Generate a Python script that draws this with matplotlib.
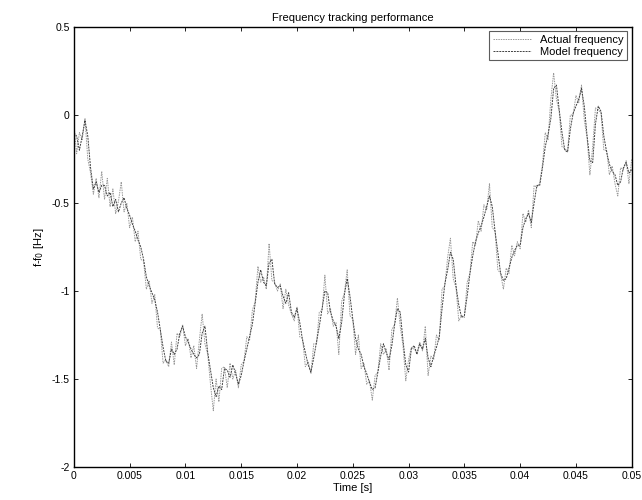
import matplotlib
matplotlib.use("Agg")
import matplotlib.pyplot as plt
import numpy as np

# frequency deviation f - f0 [Hz], sampled every 0.25 ms over 50 ms
actual_freq = [
    -0.05, -0.22, -0.10, -0.14, -0.02, -0.25, -0.33, -0.45, -0.36, -0.47,
    -0.32, -0.48, -0.36, -0.52, -0.42, -0.56, -0.49, -0.38, -0.55, -0.50,
    -0.64, -0.58, -0.72, -0.66, -0.82, -0.83, -0.99, -0.94, -1.07, -1.02,
    -1.21, -1.22, -1.41, -1.39, -1.43, -1.29, -1.42, -1.24, -1.26, -1.19,
    -1.31, -1.27, -1.38, -1.31, -1.44, -1.28, -1.13, -1.30, -1.36, -1.53,
    -1.68, -1.50, -1.63, -1.44, -1.43, -1.55, -1.41, -1.50, -1.45, -1.55,
    -1.42, -1.40, -1.26, -1.28, -1.11, -1.06, -0.86, -0.95, -0.92, -0.99,
    -0.73, -0.94, -0.95, -1.00, -0.96, -1.10, -0.99, -1.08, -1.13, -1.17,
    -1.09, -1.26, -1.27, -1.43, -1.40, -1.47, -1.30, -1.30, -1.12, -1.11,
    -0.91, -1.13, -1.10, -1.20, -1.18, -1.36, -1.06, -1.01, -0.88, -1.14,
    -1.16, -1.36, -1.25, -1.44, -1.41, -1.53, -1.51, -1.62, -1.48, -1.46,
    -1.30, -1.36, -1.33, -1.45, -1.22, -1.19, -1.04, -1.20, -1.31, -1.51,
    -1.39, -1.32, -1.33, -1.35, -1.29, -1.34, -1.20, -1.48, -1.37, -1.39,
    -1.25, -1.28, -0.99, -0.97, -0.81, -0.70, -0.93, -0.98, -1.17, -1.14,
    -1.15, -0.95, -0.90, -0.72, -0.74, -0.60, -0.66, -0.51, -0.54, -0.39,
    -0.64, -0.66, -0.88, -0.90, -0.99, -0.87, -0.90, -0.74, -0.80, -0.72,
    -0.76, -0.56, -0.61, -0.54, -0.64, -0.40, -0.41, -0.39, -0.28, -0.10,
    -0.14, 0.09, 0.24, 0.09, 0.02, -0.18, -0.19, -0.21, 0.00, 0.00,
    0.11, 0.07, 0.17, -0.03, -0.13, -0.34, -0.18, 0.04, 0.03, 0.01,
    -0.20, -0.20, -0.34, -0.29, -0.39, -0.46, -0.30, -0.31, -0.26, -0.39,
    -0.25,
]

model_freq = [
    -0.10, -0.12, -0.20, -0.12, -0.03, -0.12, -0.30, -0.42, -0.38, -0.44,
    -0.40, -0.40, -0.46, -0.44, -0.52, -0.48, -0.55, -0.50, -0.47, -0.53,
    -0.57, -0.62, -0.66, -0.71, -0.75, -0.82, -0.92, -0.97, -1.01, -1.05,
    -1.12, -1.22, -1.32, -1.40, -1.41, -1.33, -1.36, -1.33, -1.24, -1.20,
    -1.26, -1.29, -1.33, -1.36, -1.38, -1.36, -1.24, -1.20, -1.35, -1.45,
    -1.55, -1.60, -1.54, -1.56, -1.44, -1.45, -1.49, -1.42, -1.47, -1.53,
    -1.48, -1.40, -1.33, -1.26, -1.19, -1.07, -0.95, -0.88, -0.95, -0.97,
    -0.84, -0.82, -0.96, -0.98, -0.97, -1.03, -1.07, -1.01, -1.12, -1.15,
    -1.10, -1.18, -1.28, -1.35, -1.42, -1.46, -1.38, -1.29, -1.20, -1.10,
    -1.00, -1.01, -1.12, -1.17, -1.20, -1.27, -1.18, -1.02, -0.93, -1.03,
    -1.16, -1.27, -1.33, -1.36, -1.43, -1.47, -1.52, -1.56, -1.55, -1.46,
    -1.37, -1.30, -1.35, -1.39, -1.31, -1.19, -1.10, -1.12, -1.28, -1.42,
    -1.46, -1.33, -1.31, -1.36, -1.30, -1.33, -1.27, -1.38, -1.43, -1.37,
    -1.32, -1.26, -1.10, -0.96, -0.88, -0.78, -0.82, -0.97, -1.08, -1.15,
    -1.14, -1.03, -0.90, -0.80, -0.72, -0.67, -0.63, -0.58, -0.52, -0.46,
    -0.52, -0.66, -0.78, -0.90, -0.94, -0.93, -0.87, -0.81, -0.77, -0.74,
    -0.74, -0.64, -0.59, -0.56, -0.61, -0.50, -0.40, -0.40, -0.30, -0.18,
    -0.11, -0.02, 0.15, 0.17, 0.03, -0.10, -0.20, -0.21, -0.08, 0.01,
    0.05, 0.09, 0.15, 0.05, -0.12, -0.26, -0.27, -0.05, 0.05, 0.02,
    -0.12, -0.21, -0.28, -0.32, -0.34, -0.40, -0.38, -0.30, -0.27, -0.33,
    -0.31,
]

t_end = 0.05
x_ticks = [0, 0.005, 0.01, 0.015, 0.02, 0.025, 0.03, 0.035, 0.04, 0.045, 0.05]
x_tick_labels = ['0', '0.005', '0.01', '0.015', '0.02', '0.025', '0.03', '0.035', '0.04', '0.045', '0.05']
y_ticks = [-2, -1.5, -1, -0.5, 0, 0.5]
y_tick_labels = ['-2', '-1.5', '-1', '-0.5', '0', '0.5']

t = np.linspace(0, t_end, len(actual_freq))

plt.rcParams['font.family'] = ['Liberation Sans', 'DejaVu Sans']

fig = plt.figure(figsize=(6.42, 5.0), dpi=100)
ax = fig.add_axes([0.115, 0.066, 0.869, 0.880])

ax.plot(t, actual_freq, color='0.6', linewidth=0.7, linestyle=(0, (1.5, 1)), label='Actual frequency')
ax.plot(t, model_freq, color='0.25', linewidth=0.7, linestyle=(0, (2, 1)), label='Model frequency')

ax.set_xlim(0, t_end)
ax.set_ylim(-2, 0.5)
ax.set_xticks(x_ticks)
ax.set_xticklabels(x_tick_labels)
ax.set_yticks(y_ticks)
ax.set_yticklabels(y_tick_labels)
ax.tick_params(direction='in', length=3, width=0.6, labelsize=7.5, top=True, right=True, pad=3)
for sp in ax.spines.values():
    sp.set_linewidth(1.0)

ax.set_title('Frequency tracking performance', fontsize=8, pad=4)
ax.set_xlabel('Time [s]', fontsize=8, labelpad=1)
ax.set_ylabel('f-f$_0$ [Hz]', fontsize=8, labelpad=4)

leg = ax.legend(loc='upper right', fontsize=8, frameon=True, fancybox=False,
                borderaxespad=0.4, handlelength=3.5, borderpad=0.3, labelspacing=0.2)
leg.get_frame().set_edgecolor('0.2')
leg.get_frame().set_linewidth(0.8)

fig.savefig('out.png', dpi=100)
